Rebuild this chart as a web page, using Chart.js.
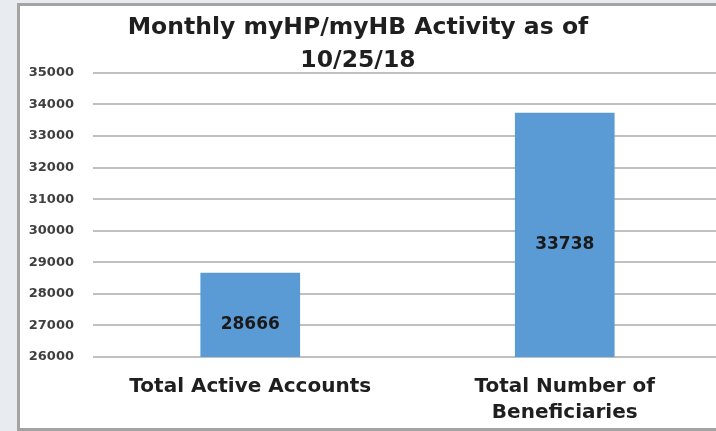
<!doctype html>
<meta charset="utf-8">
<script src="https://cdn.jsdelivr.net/npm/chart.js@4.4.1/dist/chart.umd.min.js"></script>
<style>
    html, body { margin: 0; overflow: hidden; background: #e8ebef; width: 716px; height: 431px; }
    #panel {
        position: absolute; left: 17px; top: 3px; width: 760px; height: 422px;
        background: #fff; border: 3px solid #a3a3a3; border-right: none; overflow: hidden;
    }
    #chart { position: absolute; left: -26px; top: 0; }
</style>

<div id="panel"><canvas id="chart" width="728" height="422"></canvas></div>

<script>
    const categories = [["Total Active Accounts"], ["Total Number of", "Beneficiaries"]];
    const values = [28666, 33738];
    const yMin = 26000, yMax = 35000, yStep = 1000;
    const titleLines = ["Monthly myHP/myHB Activity as of", "10/25/18"];

    const FONT = "'DejaVu Sans', sans-serif";

    // value labels sit a little below the middle of each bar, like the Excel original
    const barLabels = {
        id: "barLabels",
        afterDraw(chart) {
            const ctx = chart.ctx;
            const yScale = chart.scales.y;
            const xScale = chart.scales.x;
            const base = yScale.getPixelForValue(yMin);
            ctx.save();
            ctx.font = "bold 17px " + FONT;
            ctx.fillStyle = "#1a1a1a";
            ctx.textAlign = "center";
            ctx.textBaseline = "middle";
            values.forEach((v, i) => {
                const top = yScale.getPixelForValue(v);
                ctx.fillText(String(v), xScale.getPixelForValue(i), (top + base) / 2 + 10);
            });
            ctx.restore();
        }
    };

    new Chart(document.getElementById("chart"), {
        type: "bar",
        plugins: [barLabels],
        data: {
            labels: categories,
            datasets: [{
                data: values,
                backgroundColor: "#5b9bd5",
                borderWidth: 0,
                barPercentage: 0.317,
                categoryPercentage: 1
            }]
        },
        options: {
            responsive: false,
            animation: false,
            layout: { padding: { left: 0, right: 0, top: 0, bottom: -15 } },
            plugins: {
                legend: { display: false },
                tooltip: { enabled: false },
                title: {
                    display: true,
                    text: titleLines,
                    color: "#1f1f1f",
                    font: { family: FONT, size: 23.5, weight: "bold", lineHeight: 1.38 },
                    padding: { top: 6, bottom: -4 }
                }
            },
            scales: {
                x: {
                    grid: { display: false, drawTicks: false },
                    border: { display: false },
                    ticks: {
                        color: "#1f1f1f",
                        padding: 17,
                        maxRotation: 0,
                        font: { family: FONT, size: 20, weight: "bold", lineHeight: 1.3 }
                    }
                },
                y: {
                    min: yMin,
                    max: yMax,
                    afterFit(scale) { scale.width = 99; },
                    grid: { color: "#c0c0c0", lineWidth: 2, drawTicks: false },
                    border: { display: false },
                    ticks: {
                        stepSize: yStep,
                        color: "#404040",
                        padding: 19,
                        font: { family: FONT, size: 13, weight: "bold" },
                        callback: v => String(v)
                    }
                }
            }
        }
    });
</script>
